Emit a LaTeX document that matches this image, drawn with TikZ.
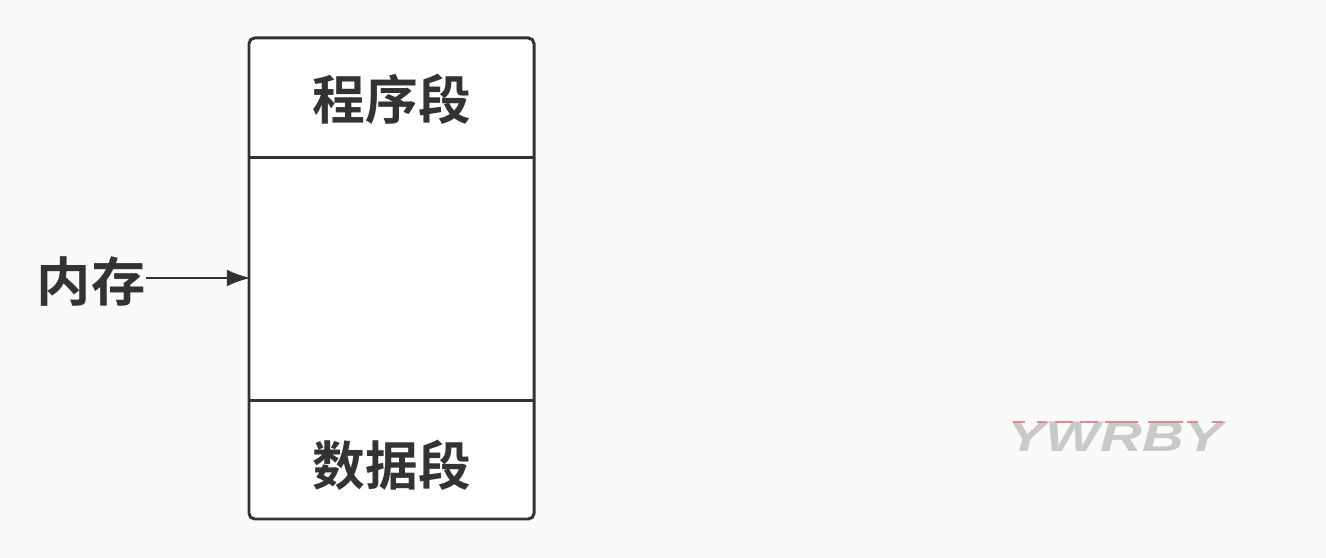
\documentclass[tikz,border=0pt]{standalone}
\usepackage{fontspec}
\newfontfamily\cjk{Noto Sans CJK SC}[BoldFont={* Bold}]
\setsansfont{Liberation Sans}
\usetikzlibrary{arrows.meta}
\usetikzlibrary{calc}
\definecolor{palette1}{HTML}{333333}
\definecolor{palette2}{HTML}{FAFAFA}
\definecolor{palette3}{HTML}{C9C9C9}
\definecolor{palette4}{HTML}{E58A8A}
\tikzset{>={Latex[length = 0.24cm, width = 0.17cm]}}
\tikzset{label/.style = {palette1, font = \cjk\bfseries\fontsize{15pt}{18pt}\selectfont, inner sep = 0pt}}

\begin{document}
\begin{tikzpicture}
\fill[palette2] (0,0) rectangle (13.26,5.58);
\useasboundingbox (0,0) rectangle (13.26,5.58);

\node[draw = palette1, fill = white, line width = 0.85pt, rounded corners = 1.6pt, outer sep = 0pt,
	minimum width = 2.85cm, minimum height = 4.81cm, inner sep = 0pt] (mem) at (3.915,2.795) {};

% the dividing lines sit at a fixed distance from the top and the bottom
\coordinate (codeL) at ($(mem.north west) + (0,-1.195)$);
\coordinate (codeR) at ($(mem.north east) + (0,-1.195)$);
\coordinate (dataL) at ($(mem.south west) + (0,1.185)$);
\coordinate (dataR) at ($(mem.south east) + (0,1.185)$);
\foreach \a/\b in {codeL/codeR, dataL/dataR}
	\draw[palette1, line width = 0.85pt] (\a) -- (\b);

\node[label] (code) at (3.92,4.585) {程序段};
\node[label] (data) at (3.92,0.925) {数据段};
\node[label, xscale = 1.03] (ram) at (0.91,2.76) {内存};

\coordinate (in) at (mem.west |- 0,2.8);
\draw[->, palette1, line width = 0.8pt, shorten > = -0.5pt] (ram.east |- in) -- (in);

\node[font = \sffamily\bfseries\itshape\fontsize{12.2pt}{14pt}\selectfont, inner sep = 0pt,
	xscale = 1.35, text = palette3] (mark) at (11.15,1.21) {YWRBY};

% red glint along the tops of the letters
\foreach \x/\y in {10.13/10.25, 10.37/10.47, 10.55/10.73, 10.80/10.98, 11.05/11.38, 11.48/11.83, 11.87/11.98, 12.12/12.23}
	\draw[palette4, line width = 0.5pt] (\x,1.363) -- (\y,1.363);

\end{tikzpicture}
\end{document}
